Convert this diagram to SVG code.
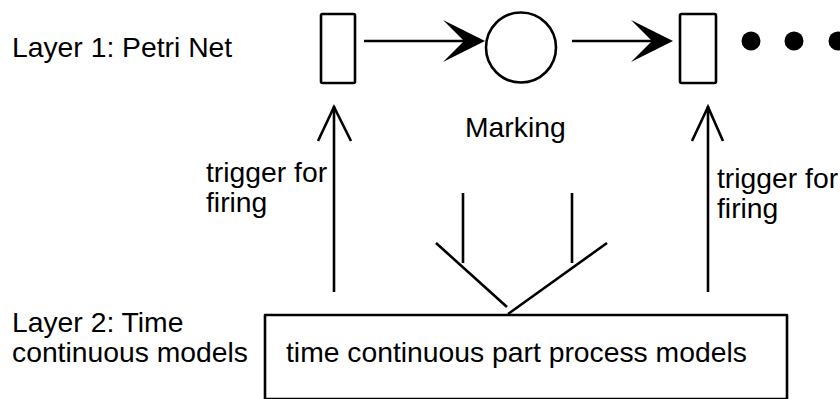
<svg xmlns="http://www.w3.org/2000/svg" width="840" height="399" viewBox="0 0 840 399">
<style>
.s{fill:none;stroke:#000;stroke-width:2.6;stroke-linecap:butt}
.b{fill:#fff;stroke:#000;stroke-width:2.6;stroke-linejoin:round}
.t{font-family:"Liberation Sans",Arial,sans-serif;font-size:28.3px;fill:#000}
.h{fill:#000;stroke:none}
</style>
<defs>
<path id="ah" d="M0,0 L-42,-21 L-21,0 L-42,21 Z"/>
</defs>
<rect width="840" height="399" fill="#fff"/>
<text class="t" x="12" y="57">Layer 1: Petri Net</text>
<text class="t" x="12" y="332">Layer 2: Time</text>
<text class="t" x="12" y="362">continuous models</text>
<g id="connectors">
<line class="s" x1="364" y1="41" x2="468" y2="41"/>
<use href="#ah" class="h" transform="translate(485,41)"/>
<line class="s" x1="572" y1="41" x2="656" y2="41"/>
<use href="#ah" class="h" transform="translate(673,41)"/>
<line class="s" x1="334" y1="292" x2="334" y2="106"/>
<polyline class="s" points="318,141 334,107 351,141"/>
<line class="s" x1="708" y1="292" x2="708" y2="106"/>
<polyline class="s" points="692,141 708,107 723,141"/>
<line class="s" x1="463" y1="193" x2="463" y2="263"/>
<line class="s" x1="572" y1="193" x2="572" y2="263"/>
<line class="s" x1="436" y1="243" x2="507" y2="307"/>
<line class="s" x1="607" y1="243" x2="508" y2="314"/>
</g>
<g id="transition1"><rect class="b" x="321" y="14" width="34" height="69" rx="1.5"/></g>
<g id="place"><circle class="b" cx="521" cy="47.5" r="35"/></g>
<text class="t" x="465" y="137">Marking</text>
<g id="transition2"><rect class="b" x="680" y="14" width="36" height="69" rx="1.5"/></g>
<g id="dots">
<circle class="h" cx="751" cy="41" r="9.5"/>
<circle class="h" cx="794" cy="41" r="9.5"/>
<circle class="h" cx="838" cy="41" r="9.5"/>
</g>
<text class="t" x="206" y="182">trigger for</text>
<text class="t" x="206" y="212">firing</text>
<text class="t" x="717" y="188">trigger for</text>
<text class="t" x="717" y="218">firing</text>
<g id="models">
<rect class="b" x="265" y="315" width="522" height="84"/>
<text class="t" x="286" y="362">time continuous part process models</text>
</g>
</svg>
